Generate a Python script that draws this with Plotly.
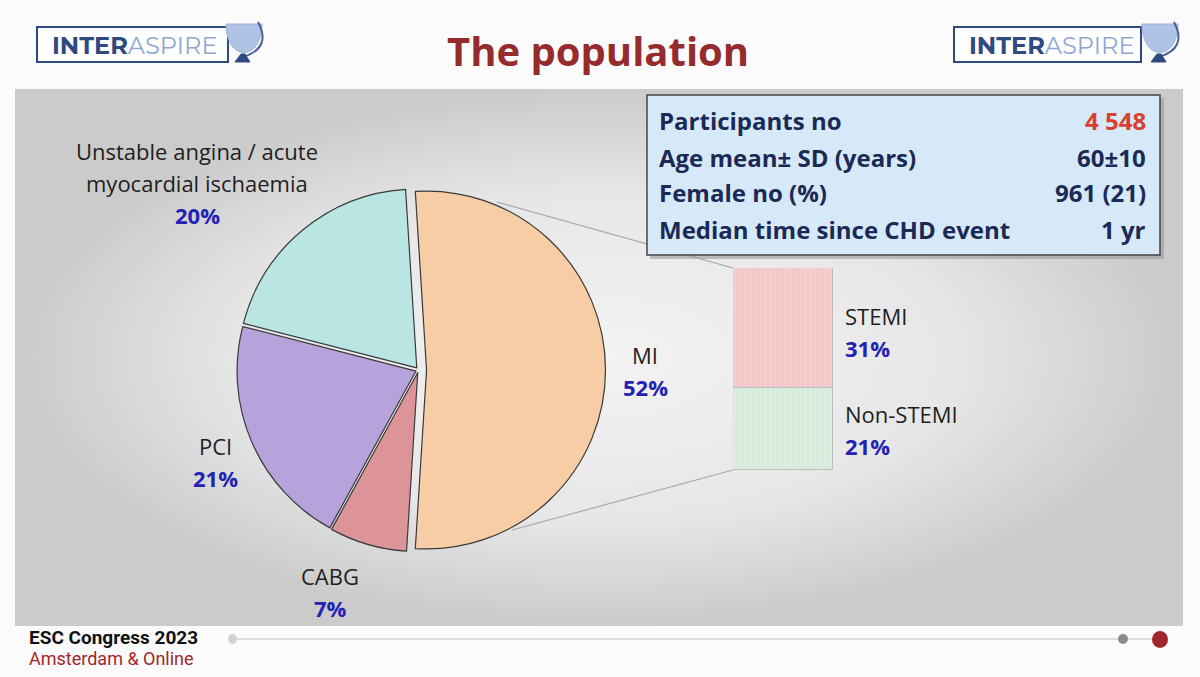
import plotly.graph_objects as go

# ---------------- data ----------------
pie_labels = ["MI", "CABG", "PCI", "Unstable angina / acute\nmyocardial ischaemia"]
pie_values = [52, 7, 21, 20]
pie_colors = ["#F7CDA6", "#DC9498", "#B7A3DC", "#B9E6E3"]
pie_pull = [0.045, 0.015, 0.015, 0.015]

mi_labels = ["Non-STEMI", "STEMI"]
mi_values = [21, 31]
mi_colors = ["#D7EBDD", "#F3C8C8"]

info_labels = ["Participants no", "Age mean\u00b1 SD (years)", "Female no (%)", "Median time since CHD event"]
info_values = ["4 548", "60\u00b110", "961 (21)", "1 yr"]
info_value_colors = ["#D8402F", "#1B2A55", "#1B2A55", "#1B2A55"]

title_text = "The population"
footer_lines = ["ESC Congress 2023", "Amsterdam & Online"]

W, H = 1200, 677
FONT = "'Open Sans', Lato, sans-serif"
LABEL_C = "#1E1E1E"
PCT_C = "#2222B4"

fig = go.Figure()

# background panel with radial gradient (full-canvas hidden axis)
fig.add_trace(go.Scatter(
    x=[15, 1183, 1183, 15, 15], y=[89, 89, 626, 626, 89],
    mode="lines", line=dict(width=0), fill="toself",
    fillgradient=dict(type="radial", colorscale=[[0, "#F3F3F3"], [0.6, "#E7E7E7"], [1, "#CBCBCB"]]),
    hoverinfo="skip", showlegend=False, xaxis="x", yaxis="y"))

# connector lines from MI slice to the MI breakdown bar
fig.add_trace(go.Scatter(x=[497, 733], y=[202, 268], mode="lines",
                         line=dict(color="#A8A8A8", width=1.2), hoverinfo="skip",
                         showlegend=False, xaxis="x", yaxis="y"))
fig.add_trace(go.Scatter(x=[512, 733], y=[530, 470], mode="lines",
                         line=dict(color="#A8A8A8", width=1.2), hoverinfo="skip",
                         showlegend=False, xaxis="x", yaxis="y"))

# pie
fig.add_trace(go.Pie(
    labels=[l.replace("\n", " ") for l in pie_labels], values=pie_values, sort=False,
    direction="clockwise", rotation=-3.6, pull=pie_pull,
    marker=dict(colors=pie_colors, line=dict(color="#3A3A3A", width=1.2)),
    textinfo="none", hoverinfo="label+percent", showlegend=False,
    domain=dict(x=[231 / W, 606 / W], y=[1 - 557 / H, 1 - 183 / H])))

# stacked bar for MI breakdown
for lab, val, col in zip(mi_labels, mi_values, mi_colors):
    fig.add_trace(go.Bar(
        x=[0], y=[val], name=lab, width=1,
        marker=dict(color=col, line=dict(color="#BDBDBD", width=1.2),
                    pattern=dict(shape="|", size=5, solidity=0.2, fgcolor="#FFFFFF", fgopacity=0.18)),
        showlegend=False, hoverinfo="name+y", xaxis="x2", yaxis="y2"))

fig.update_layout(
    width=W, height=H, margin=dict(l=0, r=0, t=0, b=0),
    paper_bgcolor="#FBFBFB", plot_bgcolor="rgba(0,0,0,0)",
    barmode="stack", bargap=0,
    xaxis=dict(range=[0, W], domain=[0, 1], visible=False, fixedrange=True),
    yaxis=dict(range=[H, 0], domain=[0, 1], visible=False, fixedrange=True),
    xaxis2=dict(range=[-0.5, 0.5], domain=[733 / W, 833 / W], visible=False, anchor="y2"),
    yaxis2=dict(range=[0, sum(mi_values)], domain=[1 - 470 / H, 1 - 268 / H], visible=False, anchor="x2"),
    font=dict(family=FONT),
)

shapes = []
# info box (shadow + box)
shapes.append(dict(type="rect", xref="x", yref="y", x0=650, y0=98, x1=1164, y1=259,
                   fillcolor="#9A9A9A", line=dict(width=0), layer="above", opacity=0.6))
shapes.append(dict(type="rect", xref="x", yref="y", x0=647, y0=95, x1=1160, y1=255,
                   fillcolor="#D6E9F8", line=dict(color="#454545", width=1.5), layer="above"))

# logos
def logo(x0, x1, gx):
    out = []
    out.append(dict(type="rect", xref="x", yref="y", x0=x0, y0=27, x1=x1, y1=62,
                    fillcolor="#FFFFFF", line=dict(color="#2F4A83", width=2), layer="above"))
    out.append(dict(type="path", xref="x", yref="y",
                    path=f"M {gx-18},24 C {gx-18},62 {gx+18},62 {gx+18},24 Z",
                    fillcolor="#AFC3E4", line=dict(color="#9DB4DB", width=1), layer="above"))
    out.append(dict(type="path", xref="x", yref="y",
                    path=f"M {gx+14},22 Q {gx+28},48 {gx-1},57",
                    fillcolor="rgba(0,0,0,0)", line=dict(color="#4A6296", width=2), layer="above"))
    out.append(dict(type="path", xref="x", yref="y",
                    path=f"M {gx-9},62 L {gx-3},54 L {gx+1},54 L {gx+6},62 Z",
                    fillcolor="#2F4A83", line=dict(color="#2F4A83", width=1), layer="above"))
    return out

shapes += logo(37, 228, 244)
shapes += logo(954, 1141, 1160)

# footer progress line & dots
shapes.append(dict(type="line", xref="x", yref="y", x0=232, y0=639, x1=1160, y1=639,
                   line=dict(color="#DCDCDC", width=2), layer="above"))
shapes.append(dict(type="circle", xref="x", yref="y", x0=228, y0=634, x1=237, y1=644,
                   fillcolor="#D2D2D2", line=dict(width=0), layer="above"))
shapes.append(dict(type="circle", xref="x", yref="y", x0=1118, y0=634, x1=1128, y1=644,
                   fillcolor="#8C8C8C", line=dict(width=0), layer="above"))
shapes.append(dict(type="circle", xref="x", yref="y", x0=1152, y0=631, x1=1168, y1=648,
                   fillcolor="#A1262B", line=dict(width=0), layer="above"))
fig.update_layout(shapes=shapes)

anns = []
def ann(x, y, text, size, color, xanchor="center", family=FONT):
    anns.append(dict(x=x, y=y, xref="x", yref="y", text=text, showarrow=False,
                     xanchor=xanchor, yanchor="middle",
                     font=dict(size=size, color=color, family=family)))

# title
ann(598, 50, f"<b>{title_text}</b>", 40, "#962B2E")

# logo texts
for lx in (50, 967):
    ann(lx, 45, "<b>INTER</b><span style='color:#8EA8D2'>ASPIRE</span>", 24, "#2F4A7E",
        xanchor="left", family="Montserrat, Lato, sans-serif")

# pie labels
label_pos = [(645, 355), (330, 576), (215, 446), (197, 151)]
LINE = 32
for lab, val, (px, py) in zip(pie_labels, pie_values, label_pos):
    lines = lab.split("\n")
    for i, ln in enumerate(lines):
        ann(px, py + i * LINE, ln, 22, LABEL_C)
    ann(px, py + len(lines) * LINE, f"<b>{val}%</b>", 22, PCT_C)

# MI breakdown labels
mi_pos = {"STEMI": 316, "Non-STEMI": 414}
for lab, val in zip(mi_labels, mi_values):
    ann(843, mi_pos[lab], lab, 22, LABEL_C, xanchor="left")
    ann(843, mi_pos[lab] + 32, f"<b>{val}%</b>", 22, PCT_C, xanchor="left")

# info box text
row_y = [120, 157, 192, 229]
for lab, val, vc, ry in zip(info_labels, info_values, info_value_colors, row_y):
    ann(657, ry, f"<b>{lab}</b>", 24, "#1B2A55", xanchor="left")
    ann(1148, ry, f"<b>{val}</b>", 24, vc, xanchor="right")

# footer
ann(27, 637, f"<b>{footer_lines[0]}</b>", 19, "#111111", xanchor="left",
    family="'Liberation Sans Narrow', 'Roboto', sans-serif")
ann(27, 658, footer_lines[1], 18, "#A3262C", xanchor="left",
    family="'Liberation Sans Narrow', 'Roboto', sans-serif")

fig.update_layout(annotations=anns)
fig.write_html("out.html")
